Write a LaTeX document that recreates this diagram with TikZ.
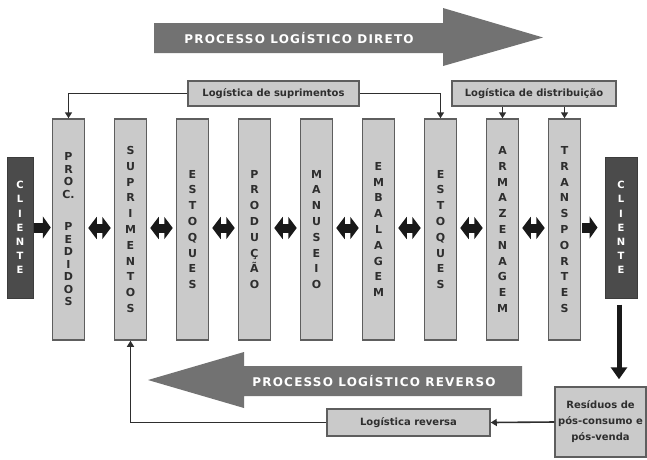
\documentclass[tikz,border=0pt]{standalone}
\usepackage{fontspec}
\setmainfont{DejaVu Sans}
\newfontfamily\titlefont[LetterSpace=10]{DejaVu Sans}
\usetikzlibrary{arrows.meta,positioning}
\definecolor{caixa}{HTML}{CACACA}
\definecolor{borda}{HTML}{5E5E5E}
\definecolor{escuro}{HTML}{4B4B4B}
\definecolor{setacinza}{HTML}{727272}
\definecolor{texto}{HTML}{2E2E2E}

\begin{document}
\begin{tikzpicture}[x=1pt, y=-1pt, node distance=62pt,
  etapa/.style={draw=borda, line width=1.5pt, fill=caixa, minimum width=32pt, minimum height=221pt, inner sep=0pt, align=center, text=texto, font=\bfseries\fontsize{11}{15.8}\selectfont},
  cliente/.style={draw=escuro!80!black, line width=1pt, fill=escuro, minimum width=26pt, minimum height=141pt, inner sep=0pt, align=center, text=white, font=\bfseries\fontsize{10}{14.2}\selectfont},
  rotulo/.style={draw=borda, line width=1.5pt, fill=caixa, inner sep=0pt, text=texto, font=\bfseries\fontsize{10}{16}\selectfont},
  titulo/.style={text=white, font=\titlefont\bfseries\fontsize{12}{14}\selectfont},
  fina/.style={draw=texto, line width=1.6pt, -{Triangle[length=6pt,width=7pt]}},
  dupla/.style={line width=9pt, draw=black!90, {Triangle[length=8.5pt,width=22pt]}-{Triangle[length=8.5pt,width=22pt]}},
  simples/.style={line width=10pt, draw=black!90, -{Triangle[length=8pt,width=22pt]}},
  grossa/.style={line width=5pt, draw=black!90, -{Triangle[length=12pt,width=16pt]}}]

\useasboundingbox (0,0) rectangle (647,459);

% setas grandes
\fill[setacinza] (154,23) -- (443,23) -- (443,8) -- (543,37.5) -- (443,66) -- (443,53) -- (154,53) -- cycle;
\node (direto) [titulo] at (299,38) {PROCESSO LOGÍSTICO DIRETO};
\fill[setacinza] (522,366) -- (244,366) -- (244,352) -- (148,380) -- (244,408) -- (244,396) -- (522,396) -- cycle;
\node (reverso) [titulo] at (374,381) {PROCESSO LOGÍSTICO REVERSO};

% etapas
\node (proc) [etapa, font=\bfseries\fontsize{11}{12.5}\selectfont] at (68.5,229.5) {P\\R\\O\\C.\\[20pt]P\\E\\D\\I\\D\\O\\S};
\node (sup) [etapa, right of=proc] {S\\U\\P\\R\\I\\M\\E\\N\\T\\O\\S};
\node (est1) [etapa, right of=sup] {E\\S\\T\\O\\Q\\U\\E\\S};
\node (prod) [etapa, right of=est1] {P\\R\\O\\D\\U\\Ç\\Ã\\O};
\node (man) [etapa, right of=prod] {M\\A\\N\\U\\S\\E\\I\\O};
\node (emb) [etapa, right of=man] {E\\M\\B\\A\\L\\A\\G\\E\\M};
\node (est2) [etapa, right of=emb] {E\\S\\T\\O\\Q\\U\\E\\S};
\node (arm) [etapa, right of=est2] {A\\R\\M\\A\\Z\\E\\N\\A\\G\\E\\M};
\node (trans) [etapa, right of=arm] {T\\R\\A\\N\\S\\P\\O\\R\\T\\E\\S};

\node (cli1) [cliente] at (20,227.5) {C\\L\\I\\E\\N\\T\\E};
\node (cli2) [cliente, minimum width=32pt] at (621,227.5) {C\\L\\I\\E\\N\\T\\E};

% rotulos
\node (lsup) [rotulo, minimum width=171pt, minimum height=25pt] at (273.5,93.5) {Logística de suprimentos};
\node (ldist) [rotulo, minimum width=164pt, minimum height=25pt] at (534,93.5) {Logística de distribuição};
\node (lrev) [rotulo, minimum width=163pt, minimum height=27pt] at (408.5,422.5) {Logística reversa};
\node (res) [rotulo, minimum width=91pt, minimum height=70pt, align=center] at (600.5,422) {Resíduos de\\pós-consumo e\\pós-venda};

% ligacoes
\draw[fina] (lsup.west) -| (proc.north);
\draw[fina] (lsup.east) -| (est2.north);
\draw[fina] (ldist.south -| arm.north) -- (arm.north);
\draw[fina] (ldist.south -| trans.north) -- (trans.north);
\draw[fina] (res.west) -- (lrev.east);
\draw[fina] (lrev.west) -| (sup.south);

\foreach \a/\b in {proc/sup, sup/est1, est1/prod, prod/man, man/emb, emb/est2, est2/arm, arm/trans}
  \draw[dupla] ([xshift=3pt,yshift=1.5pt]\a.east) -- ([xshift=-3pt,yshift=1.5pt]\b.west);

\draw[simples] (cli1.east) -- ([xshift=-1pt,yshift=2pt]proc.west);
\draw[simples] ([xshift=1pt,yshift=2pt]trans.east) -- ([xshift=-7pt]cli2.west);
\draw[grossa] ([xshift=-2pt,yshift=-6pt]cli2.south) -- ([xshift=18.5pt,yshift=7pt]res.north);
\end{tikzpicture}
\end{document}
